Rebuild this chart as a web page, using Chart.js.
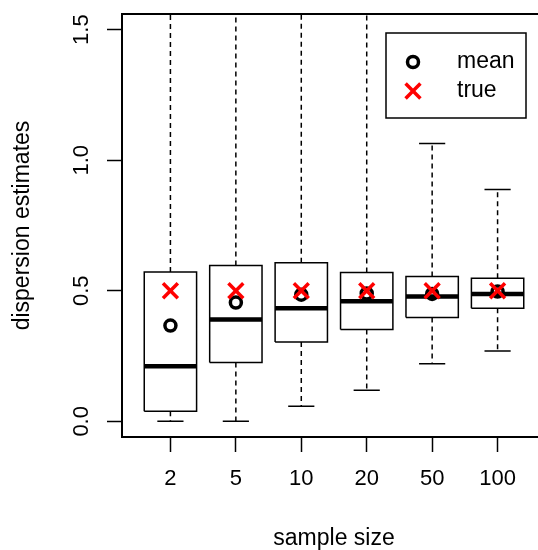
<!DOCTYPE html>
<html>
<head>
<meta charset="utf-8">
<script src="https://cdn.jsdelivr.net/npm/chart.js@4"></script>
<style>
  html, body { margin: 0; padding: 0; background: #fff; overflow: hidden; }
  #wrap { width: 560px; height: 550px; }
</style>
</head>
<body>
<div id="wrap"><canvas id="boxChart" width="560" height="550"></canvas></div>
<script>
const sampleSizes = ["2", "5", "10", "20", "50", "100"];
const lowerWhisker = [0.0, 0.0, 0.058, 0.119, 0.221, 0.269];
const q1 = [0.039, 0.225, 0.304, 0.352, 0.398, 0.433];
const medians = [0.211, 0.390, 0.433, 0.460, 0.478, 0.488];
const q3 = [0.572, 0.597, 0.607, 0.570, 0.555, 0.548];
// the first four upper whiskers run past the top of the plot
const upperWhisker = [2.9, 2.2, 1.9, 1.7, 1.064, 0.888];
const means = [0.367, 0.455, 0.485, 0.490, 0.488, 0.497];
const trueValues = [0.5, 0.5, 0.5, 0.5, 0.5, 0.5];
const yTicks = [0.0, 0.5, 1.0, 1.5];
const legendOrder = ["mean", "true"];

const FONT = "'Liberation Sans', Arial, Helvetica, sans-serif";
const BOX_HALF = 0.4;
const CAP_HALF = 0.2;

function gap(x) {
    return { x: x, y: null };
}

const whiskerData = [];
const capData = [];
const boxData = [];
const medianData = [];

sampleSizes.forEach((s, i) => {
    const x = i + 1;
    whiskerData.push({ x: x, y: q3[i] }, { x: x, y: upperWhisker[i] }, gap(x));
    whiskerData.push({ x: x, y: q1[i] }, { x: x, y: lowerWhisker[i] }, gap(x));

    capData.push({ x: x - CAP_HALF, y: upperWhisker[i] }, { x: x + CAP_HALF, y: upperWhisker[i] }, gap(x));
    capData.push({ x: x - CAP_HALF, y: lowerWhisker[i] }, { x: x + CAP_HALF, y: lowerWhisker[i] }, gap(x));

    boxData.push(
        { x: x - BOX_HALF, y: q1[i] },
        { x: x + BOX_HALF, y: q1[i] },
        { x: x + BOX_HALF, y: q3[i] },
        { x: x - BOX_HALF, y: q3[i] },
        { x: x - BOX_HALF, y: q1[i] },
        gap(x + 0.5)
    );

    medianData.push({ x: x - BOX_HALF, y: medians[i] }, { x: x + BOX_HALF, y: medians[i] }, gap(x + 0.5));
});

const lineBase = {
    showLine: true,
    pointRadius: 0,
    fill: false,
    tension: 0,
    spanGaps: false
};

// R style frame round the plot area
const frame = {
    id: "frame",
    afterDatasetsDraw(chart) {
        const a = chart.chartArea;
        const ctx = chart.ctx;
        ctx.save();
        ctx.strokeStyle = "#000";
        ctx.lineWidth = 2;
        ctx.strokeRect(a.left, a.top, a.right - a.left, a.bottom - a.top);
        ctx.restore();
    }
};

// legend box placed like the R legend
const boxLegend = {
    id: "boxLegend",
    afterDraw(chart) {
        const ctx = chart.ctx;
        const items = legendOrder.map(name => chart.data.datasets.find(d => d.label === name));
        ctx.save();
        ctx.strokeStyle = "#000";
        ctx.lineWidth = 1.5;
        ctx.strokeRect(386, 33, 140, 85);
        items.forEach((d, k) => {
            const y = 62 + k * 29;
            ctx.strokeStyle = d.pointBorderColor;
            ctx.lineWidth = d.pointBorderWidth;
            ctx.beginPath();
            if (d.pointStyle === "circle") {
                ctx.arc(413, y, d.pointRadius, 0, Math.PI * 2);
            } else {
                const h = d.pointRadius * Math.SQRT1_2;
                ctx.moveTo(413 - h, y - h); ctx.lineTo(413 + h, y + h);
                ctx.moveTo(413 - h, y + h); ctx.lineTo(413 + h, y - h);
            }
            ctx.stroke();
            ctx.fillStyle = "#000";
            ctx.font = "23px " + FONT;
            ctx.textAlign = "left";
            ctx.textBaseline = "middle";
            ctx.fillText(d.label, 457, y);
        });
        ctx.restore();
    }
};

new Chart(document.getElementById("boxChart"), {
    type: "scatter",
    data: {
        datasets: [
            {
                label: "true",
                data: trueValues.map((v, i) => ({ x: i + 1, y: v })),
                showLine: false,
                pointStyle: "crossRot",
                pointRadius: 10.5,
                pointBorderWidth: 3.5,
                pointBorderColor: "#ff0000",
                pointBackgroundColor: "#ff0000",
                order: 0
            },
            {
                label: "mean",
                data: means.map((v, i) => ({ x: i + 1, y: v })),
                showLine: false,
                pointStyle: "circle",
                pointRadius: 5.5,
                pointBorderWidth: 3.5,
                pointBorderColor: "#000",
                pointBackgroundColor: "rgba(0,0,0,0)",
                order: 1
            },
            Object.assign({}, lineBase, {
                label: "median",
                data: medianData,
                borderColor: "#000",
                borderWidth: 4.5,
                borderCapStyle: "butt",
                order: 2
            }),
            Object.assign({}, lineBase, {
                label: "box",
                data: boxData,
                borderColor: "#000",
                borderWidth: 1.5,
                order: 3
            }),
            Object.assign({}, lineBase, {
                label: "caps",
                data: capData,
                borderColor: "#000",
                borderWidth: 1.5,
                order: 4
            }),
            Object.assign({}, lineBase, {
                label: "whiskers",
                data: whiskerData,
                borderColor: "#000",
                borderWidth: 1.5,
                borderDash: [5, 4],
                order: 5
            })
        ]
    },
    options: {
        responsive: false,
        animation: false,
        devicePixelRatio: 1,
        layout: { padding: { top: 11, right: 12, left: 0, bottom: 0 } },
        plugins: {
            legend: { display: false },
            tooltip: { enabled: false }
        },
        scales: {
            x: {
                type: "linear",
                min: 0.26,
                max: 6.74,
                afterBuildTicks: s => { s.ticks = sampleSizes.map((_, i) => ({ value: i + 1 })); },
                afterFit: s => { s.height = 113; s.paddingLeft = 0; s.paddingRight = 0; },
                ticks: {
                    color: "#000",
                    font: { family: FONT, size: 22 },
                    padding: 14,
                    maxRotation: 0,
                    autoSkip: false,
                    callback: (v, i) => sampleSizes[i]
                },
                grid: {
                    drawOnChartArea: false,
                    drawTicks: true,
                    tickLength: 15,
                    tickColor: "#000",
                    tickWidth: 1.5
                },
                border: { display: false },
                title: {
                    display: true,
                    text: "sample size",
                    color: "#000",
                    font: { family: FONT, size: 23 },
                    padding: { top: 0, bottom: -2 }
                }
            },
            y: {
                type: "linear",
                min: -0.06,
                max: 1.56,
                afterBuildTicks: s => { s.ticks = yTicks.map(v => ({ value: v })); },
                afterFit: s => { s.width = 122; s.paddingTop = 0; s.paddingBottom = 0; },
                ticks: {
                    color: "#000",
                    font: { family: FONT, size: 22 },
                    padding: 10,
                    minRotation: 90,
                    maxRotation: 90,
                    crossAlign: "center",
                    callback: v => v.toFixed(1)
                },
                grid: {
                    drawOnChartArea: false,
                    drawTicks: true,
                    tickLength: 15,
                    tickColor: "#000",
                    tickWidth: 1.5
                },
                border: { display: false },
                title: {
                    display: true,
                    text: "dispersion estimates",
                    color: "#000",
                    font: { family: FONT, size: 23 },
                    padding: { top: 9, bottom: 0 }
                }
            }
        }
    },
    plugins: [frame, boxLegend]
});
</script>
</body>
</html>
